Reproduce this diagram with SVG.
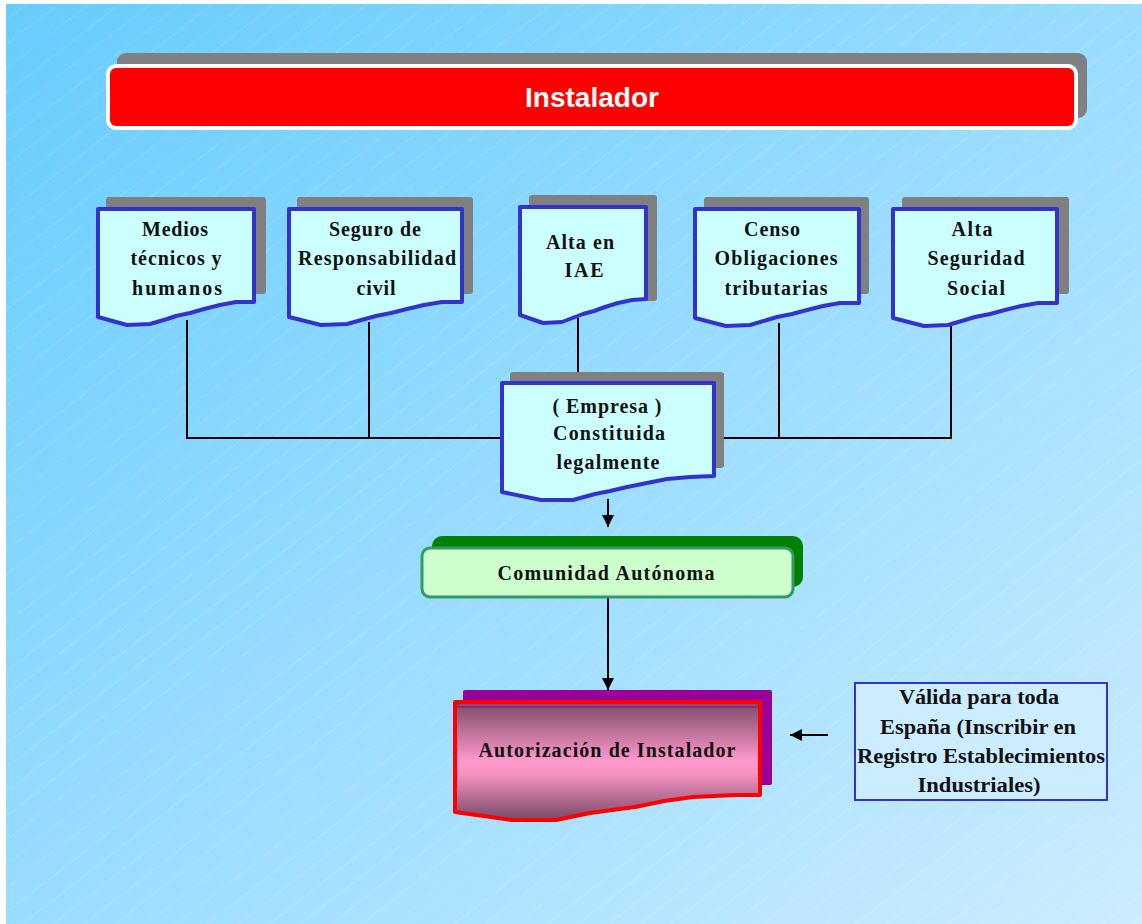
<svg xmlns="http://www.w3.org/2000/svg" width="1142" height="924" viewBox="0 0 1142 924">
<defs>
<linearGradient id="bg" x1="0" y1="0" x2="1" y2="1">
<stop offset="0" stop-color="#66CCFF"/>
<stop offset="1" stop-color="#CCECFF"/>
</linearGradient>
<pattern id="stripes" width="19" height="19" patternUnits="userSpaceOnUse" patternTransform="rotate(-38)">
<line x1="0" y1="1" x2="19" y2="1" stroke="#FFFFFF" stroke-width="0.7" stroke-opacity="0.3" stroke-dasharray="3 1"/>
</pattern>
<linearGradient id="pink" x1="0" y1="0" x2="0" y2="1">
<stop offset="0" stop-color="#7A4A66"/>
<stop offset="0.5" stop-color="#FF99CC"/>
<stop offset="0.6" stop-color="#F794C4"/>
<stop offset="1" stop-color="#7A4A66"/>
</linearGradient>
<marker id="arr" viewBox="0 0 12 12" refX="12" refY="6" markerWidth="12" markerHeight="12" markerUnits="userSpaceOnUse" orient="auto">
<path d="M0,0 L12,6 L0,12 Z" fill="#000000"/>
</marker>
<style>
.shadow{fill:#808080}
.doc{fill:#CCFFFF;stroke:#3333CC;stroke-width:4;stroke-linejoin:round}
.t{font-family:"Liberation Serif","Times New Roman",serif;font-weight:bold;font-size:20px;fill:#111111;text-anchor:middle}
.c{fill:none;stroke:#000000;stroke-width:2}
</style>
</defs>
<rect x="0" y="0" width="1142" height="924" fill="#FFFFFF"/>
<rect x="6" y="4" width="1136" height="920" fill="url(#bg)"/>
<rect x="6" y="4" width="1136" height="920" fill="url(#stripes)"/>

<g id="title">
<rect class="shadow" x="117" y="53" width="970" height="65" rx="9"/>
<rect x="108" y="66" width="968" height="62" rx="8" fill="#FF0000" stroke="#FFFFFF" stroke-width="4"/>
<text x="592" y="107" font-family="'Liberation Sans',Arial,sans-serif" font-weight="bold" font-size="28" fill="#FFFFFF" text-anchor="middle">Instalador</text>
</g>

<g id="connectors">
<line class="c" x1="187" y1="320" x2="187" y2="438"/>
<line class="c" x1="369" y1="322" x2="369" y2="438"/>
<line class="c" x1="578" y1="318" x2="578" y2="383"/>
<line class="c" x1="779" y1="323" x2="779" y2="438"/>
<line class="c" x1="951" y1="320" x2="951" y2="438"/>
<line class="c" x1="186" y1="438" x2="502" y2="438"/>
<line class="c" x1="714" y1="438" x2="952" y2="438"/>
<line class="c" x1="608" y1="499" x2="608" y2="527" marker-end="url(#arr)"/>
<line class="c" x1="608" y1="598" x2="608" y2="690" marker-end="url(#arr)"/>
<line class="c" x1="828" y1="735" x2="790" y2="735" marker-end="url(#arr)"/>
</g>

<g id="medios">
<rect class="shadow" x="106" y="197" width="160" height="97" rx="3"/>
<path class="doc" d="M98,209 H254 V302 L236,302 L220,305 L204,309 L190,313 L176,316 L167,319 L150,324 L127,325 L98,317 Z"/>
<text class="t" x="175" y="236" textLength="66" lengthAdjust="spacing">Medios</text>
<text class="t" x="176" y="265" textLength="91" lengthAdjust="spacing">técnicos y</text>
<text class="t" x="177" y="295" textLength="90" lengthAdjust="spacing">humanos</text>
</g>

<g id="seguro">
<rect class="shadow" x="297" y="197" width="176" height="97" rx="3"/>
<path class="doc" d="M289,209 H462 V302 L442,302 L424,305 L407,309 L391,313 L376,316 L365,319 L347,324 L321,325 L289,317 Z"/>
<text class="t" x="375" y="236" textLength="92" lengthAdjust="spacing">Seguro de</text>
<text class="t" x="377" y="265" textLength="158" lengthAdjust="spacing">Responsabilidad</text>
<text class="t" x="376" y="295" textLength="39" lengthAdjust="spacing">civil</text>
</g>

<g id="iae">
<rect class="shadow" x="529" y="195" width="128" height="106" rx="3"/>
<path class="doc" d="M520,207 H646 V299 L632,300 L618,303 L605,307 L594,311 L583,314 L575,317 L562,322 L543,323 L520,315 Z"/>
<text class="t" x="580" y="249" textLength="68" lengthAdjust="spacing">Alta en</text>
<text class="t" x="584" y="277" textLength="39" lengthAdjust="spacing">IAE</text>
</g>

<g id="censo">
<rect class="shadow" x="704" y="197" width="165" height="97" rx="3"/>
<path class="doc" d="M695,209 H859 V303 L840,303 L823,306 L807,310 L792,314 L777,317 L767,320 L750,325 L726,326 L695,318 Z"/>
<text class="t" x="772" y="236" textLength="56" lengthAdjust="spacing">Censo</text>
<text class="t" x="776" y="265" textLength="123" lengthAdjust="spacing">Obligaciones</text>
<text class="t" x="776" y="295" textLength="103" lengthAdjust="spacing">tributarias</text>
</g>

<g id="seguridad">
<rect class="shadow" x="902" y="197" width="167" height="97" rx="3"/>
<path class="doc" d="M893,209 H1057 V303 L1038,303 L1021,306 L1005,310 L990,314 L975,317 L965,320 L948,325 L924,326 L893,318 Z"/>
<text class="t" x="972" y="236" textLength="41" lengthAdjust="spacing">Alta</text>
<text class="t" x="976" y="265" textLength="97" lengthAdjust="spacing">Seguridad</text>
<text class="t" x="976" y="295" textLength="58" lengthAdjust="spacing">Social</text>
</g>

<g id="empresa">
<rect class="shadow" x="510" y="372" width="214" height="96" rx="3"/>
<path class="doc" d="M502,383 H714 V476 L690,477 L667,479 L647,483 L627,487 L610,491 L595,494 L573,500 L541,500 L502,492 Z"/>
<text class="t" x="607" y="413" textLength="109" lengthAdjust="spacing">( Empresa )</text>
<text class="t" x="609" y="440" textLength="112" lengthAdjust="spacing">Constituida</text>
<text class="t" x="608" y="469" textLength="103" lengthAdjust="spacing">legalmente</text>
</g>

<g id="comunidad">
<rect x="432" y="536" width="371" height="51" rx="10" fill="#008000"/>
<rect x="422" y="548" width="371" height="49" rx="8" fill="#CCFFCC" stroke="#339966" stroke-width="3"/>
<text class="t" x="606" y="580" textLength="217" lengthAdjust="spacing">Comunidad Autónoma</text>
</g>

<g id="autorizacion">
<rect x="463" y="690" width="309" height="95" rx="2" fill="#990099"/>
<path d="M455,702 H760 V795 L735,795 L693,797 L664,801 L635,807 L612,810 L590,813 L556,820 L512,820 L455,812 Z" fill="url(#pink)" stroke="#FF0000" stroke-width="4" stroke-linejoin="round"/>
<line x1="457" y1="707" x2="758" y2="707" stroke="#990099" stroke-width="1"/>
<text class="t" x="607" y="757" textLength="257" lengthAdjust="spacing">Autorización de Instalador</text>
</g>

<g id="valida">
<rect x="855" y="683" width="252" height="117" fill="#CCECFF" stroke="#3333CC" stroke-width="2"/>
<text class="t" x="979" y="704" textLength="160" lengthAdjust="spacingAndGlyphs" font-size="21">Válida para toda</text>
<text class="t" x="978" y="734" textLength="196" lengthAdjust="spacingAndGlyphs" font-size="21">España (Inscribir en</text>
<text class="t" x="981" y="763" textLength="248" lengthAdjust="spacingAndGlyphs" font-size="21">Registro Establecimientos</text>
<text class="t" x="979" y="792" textLength="123" lengthAdjust="spacingAndGlyphs" font-size="21">Industriales)</text>
</g>
</svg>
